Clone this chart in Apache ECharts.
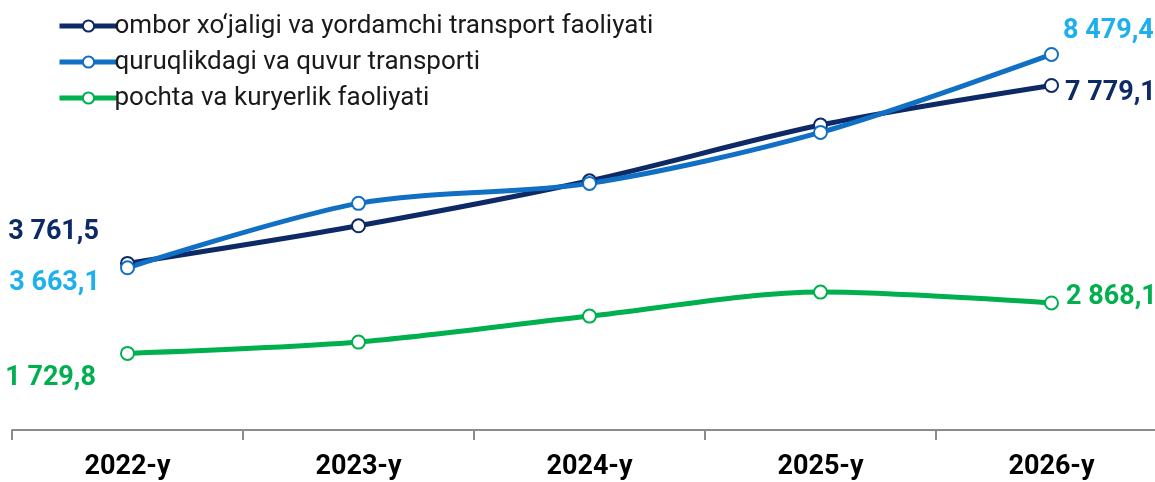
<!DOCTYPE html>
<html>
<head>
<meta charset="utf-8">
<script src="https://cdn.jsdelivr.net/npm/echarts@6/dist/echarts.min.js"></script>
<style>
  html, body { margin: 0; padding: 0; background: #fff; overflow: hidden; }
  #chart { width: 1167px; height: 482px; }
</style>
</head>
<body>
<div id="chart"></div>
<script>
// kategoriyalar (yillar)
var years = ['2022-y', '2023-y', '2024-y', '2025-y', '2026-y'];
// seriya nomlari
var names = [
  'ombor xo‘jaligi va yordamchi transport faoliyati',
  'quruqlikdagi va quvur transporti',
  'pochta va kuryerlik faoliyati'
];
// qiymatlar
var ombor = [3761.5, 4611, 5627, 6885, 7779.1];
var quruqlik = [3663.1, 5117, 5568, 6720, 8479.4];
var pochta = [1729.8, 1985, 2572, 3114, 2868.1];

function fmt(v) {
  var s = v.toFixed(1).split('.');
  return s[0].replace(/\B(?=(\d{3})+(?!\d))/g, ' ') + ',' + s[1];
}

function build(values, labelColor, first, last) {
  return values.map(function (v, i) {
    var lbl = { show: false };
    if (i === 0) lbl = Object.assign({ show: true, color: labelColor }, first);
    if (i === values.length - 1) lbl = Object.assign({ show: true, color: labelColor }, last);
    return { value: v, label: lbl };
  });
}

var labelBase = {
  fontFamily: 'Roboto',
  fontWeight: 'bold',
  fontSize: 27,
  formatter: function (p) { return fmt(p.value); }
};

function series(name, values, lineColor, labelColor, first, last) {
  return {
    name: name,
    type: 'line',
    smooth: 0.3,
    symbol: 'circle',
    symbolSize: 13,
    lineStyle: { color: lineColor, width: 5 },
    itemStyle: { color: '#fff', borderColor: lineColor, borderWidth: 2 },
    label: labelBase,
    emphasis: { disabled: true },
    data: build(values, labelColor, first, last)
  };
}

var myChart = echarts.init(document.getElementById('chart'));
var option = {
  animation: false,
  legend: {
    orient: 'vertical',
    left: 52,
    top: 8,
    itemWidth: 58,
    itemHeight: 14,
    itemGap: 10,
    lineStyle: { width: 5 },
    textStyle: { fontFamily: 'Roboto', fontSize: 26, color: '#1a1a1a', padding: [0, 0, 0, -8] },
    data: names
  },
  grid: { left: 12, right: 0, bottom: 52, height: 398.6 },
  xAxis: {
    type: 'category',
    data: years,
    offset: 3,
    boundaryGap: true,
    axisLine: { lineStyle: { color: '#8c8c8c', width: 2 } },
    axisTick: { show: true, length: 10, lineStyle: { color: '#8c8c8c', width: 2 } },
    axisLabel: { fontFamily: 'Roboto', fontWeight: 'bold', fontSize: 27, color: '#000', margin: 21 }
  },
  yAxis: {
    type: 'value',
    min: 0,
    max: 9000,
    show: false,
    splitLine: { show: false }
  },
  series: [
    series(names[0], ombor, '#0d2a66', '#0d2a66',
      { position: 'left', distance: 21, offset: [0, -31] },
      { position: 'right', distance: 6, offset: [0, 8] }),
    series(names[1], quruqlik, '#1170c4', '#1eb0ee',
      { position: 'left', distance: 20, offset: [0, 15] },
      { position: 'right', distance: 4, offset: [0, -23] }),
    series(names[2], pochta, '#00b04f', '#00b04f',
      { position: 'left', distance: 24, offset: [0, 25] },
      { position: 'right', distance: 7, offset: [0, -6] })
  ]
};
myChart.setOption(option);
</script>
</body>
</html>
